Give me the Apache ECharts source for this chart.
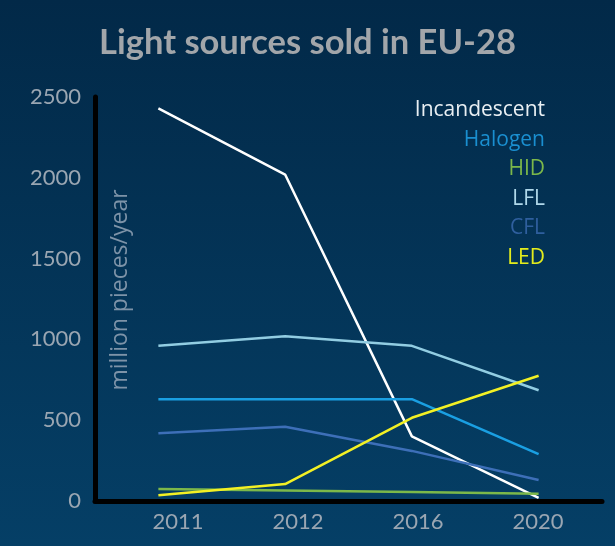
<!DOCTYPE html>
<html>
<head>
<meta charset="utf-8">
<script src="https://cdn.jsdelivr.net/npm/echarts@6/dist/echarts.min.js"></script>
<style>
html,body{margin:0;padding:0;width:615px;height:546px;overflow:hidden;}
#c{width:615px;height:546px;}
</style>
</head>
<body>
<div id="c"></div>
<script>
var years = ['2011', '2012', '2016', '2020'];
var seriesNames = ['Incandescent', 'Halogen', 'HID', 'LFL', 'CFL', 'LED'];
var incandescent = [2430, 2020, 400, 20];
var halogen = [630, 630, 630, 290];
var hid = [75, 65, 55, 45];
var lfl = [960, 1020, 960, 685];
var cfl = [420, 460, 310, 130];
var led = [35, 105, 515, 775];
var yTicks = [0, 500, 1000, 1500, 2000, 2500];

var values = [incandescent, halogen, hid, lfl, cfl, led];
var lineColors = ['#ffffff', '#1a9fe2', '#7cb84a', '#92cde2', '#3d6fb8', '#f2f024'];
var legendColors = ['#e9eff3', '#1a8fd0', '#7cb84a', '#b0d8ea', '#2f5f9e', '#e4ec1c'];

var chart = echarts.init(document.getElementById('c'), null, {renderer: 'canvas'});

var graphics = seriesNames.map(function (n, i) {
  return {
    type: 'text', x: 545, y: 110 + i * 29.6,
    style: {text: n, fill: legendColors[i], font: '21px "Open Sans"', textAlign: 'right', textVerticalAlign: 'middle'}
  };
});
graphics.push({
  type: 'text', x: 120, y: 290, rotation: Math.PI / 2,
  style: {text: 'million pieces/year', fill: '#7d93a8', font: '23px "Open Sans"', textAlign: 'center', textVerticalAlign: 'middle'}
});

chart.setOption({
  backgroundColor: {
    type: 'linear', x: 0, y: 0, x2: 0, y2: 1,
    colorStops: [{offset: 0, color: '#022948'}, {offset: 1, color: '#053f66'}]
  },
  title: {
    text: 'Light sources sold in EU-28', left: 'center', top: 20,
    textStyle: {color: '#a2a6aa', fontSize: 34.5, fontWeight: 'bold', fontFamily: 'Lato'}
  },
  grid: [
    {left: 95, right: 13, top: 97, bottom: 45, outerBoundsMode: 'none', containLabel: false},
    {left: 118, right: 17, top: 97, bottom: 45, outerBoundsMode: 'none', containLabel: false}
  ],
  xAxis: [{
    type: 'category', data: years, boundaryGap: true, gridIndex: 0,
    axisLine: {lineStyle: {color: '#000000', width: 5}},
    axisTick: {show: false},
    axisLabel: {show: false}
  }, {
    type: 'category', data: years, boundaryGap: true, gridIndex: 1,
    axisLine: {show: false},
    axisTick: {show: false},
    axisLabel: {color: '#9aa6b2', fontSize: 22, fontFamily: 'Lato', margin: 10}
  }],
  yAxis: [{
    type: 'value', min: 0, max: 2500, interval: 500, gridIndex: 0,
    axisLine: {show: true, lineStyle: {color: '#000000', width: 5}},
    axisTick: {show: false},
    splitLine: {show: false},
    axisLabel: {color: '#9aa6b2', fontSize: 22, fontFamily: 'Lato', margin: 14,
      formatter: function (v) { return yTicks.indexOf(v) >= 0 ? String(v) : ''; }}
  }, {
    type: 'value', min: 0, max: 2500, interval: 500, gridIndex: 1, show: false
  }],
  graphic: graphics,
  series: seriesNames.map(function (n, i) {
    return {
      name: n, type: 'line', data: values[i], symbol: 'none', xAxisIndex: 0, yAxisIndex: 0,
      lineStyle: {color: lineColors[i], width: 2.5}, silent: true, z: 3 + (i === 0 ? 0 : 1)
    };
  })
});
</script>
</body>
</html>
